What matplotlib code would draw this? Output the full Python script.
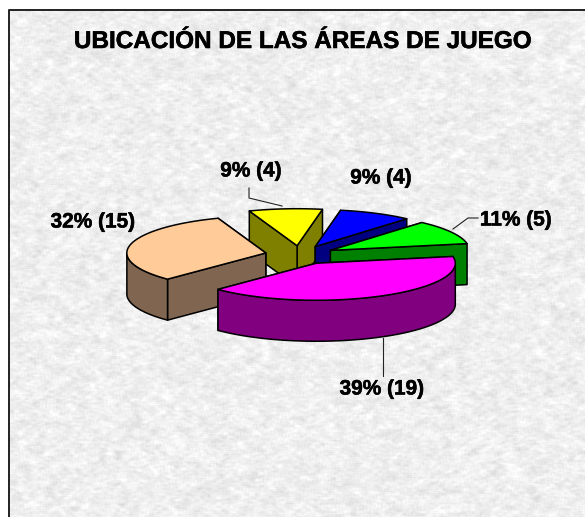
import numpy as np
import matplotlib
matplotlib.use('Agg')
import matplotlib.pyplot as plt
import matplotlib.patheffects as pe
from matplotlib.patches import Polygon

plt.rcParams['font.family'] = ['Liberation Sans', 'DejaVu Sans']

# data, clockwise from the lower left edge of the magenta slice
title = 'UBICACIÓN DE LAS ÁREAS DE JUEGO'
counts = [19, 5, 4, 4, 15]
labels = ['39% (19)', '11% (5)', '9% (4)', '9% (4)', '32% (15)']
top_colors = ['#FF00FF', '#00FF00', '#0000FF', '#FFFF00', '#FFCC99']
side_colors = ['#800080', '#008000', '#000080', '#808000', '#806650']
label_pos = [(382, 389), (516, 220), (381, 178), (251, 171), (93, 222)]
draw_order = [3, 2, 1, 4, 0]

# pie geometry in pixels
cx, cy = 300, 255
rx, ry = 139, 37
depth = 41
explode = 35
start_angle = -135

fig = plt.figure(figsize=(5.85, 5.17), dpi=100)
ax = fig.add_axes([0, 0, 1, 1])

# paper texture behind the chart, not data
rng = np.random.default_rng(3)
noise = rng.normal(size=(517, 585))
soft = sum(np.roll(np.roll(noise, i, 0), j, 1) for i in range(-1, 2) for j in range(-2, 3)) / 15
wide = sum(np.roll(np.roll(noise, i, 0), j, 1) for i in range(-4, 5) for j in range(-6, 7)) / 117
tex = 0.935 + 0.075 * soft + 0.07 * wide
tex = np.clip(tex, 0.74, 1.0)
tex[:9, :] = 1
tex[:, :8] = 1
ax.imshow(tex, cmap='gray', vmin=0, vmax=1, extent=(0, 585, 517, 0), aspect='auto', zorder=0)
ax.set_xlim(0, 585)
ax.set_ylim(517, 0)
ax.axis('off')
ax.plot([8.5, 8.5, 585], [517, 9.5, 9.5], color='#222222', lw=1.4, zorder=1)

shares = np.array(counts) / sum(counts) * 360
ends = start_angle + np.cumsum(shares)
starts = ends - shares


def pt(x0, y0, deg):
    a = np.radians(deg)
    return x0 + rx * np.cos(a), y0 - ry * np.sin(a)


z = 2
for i in draw_order:
    a0, a1 = starts[i], ends[i]
    mid = np.radians((a0 + a1) / 2)
    x0 = cx + explode * np.cos(mid)
    y0 = cy - explode * ry / rx * np.sin(mid)
    ang = np.linspace(a0, a1, 80)
    arc = np.array([pt(x0, y0, d) for d in ang])
    style = dict(edgecolor='black', lw=1.1, joinstyle='round')

    # radial faces, the one further back first
    for d in sorted((a0, a1), key=lambda v: np.sin(np.radians(v)), reverse=True):
        ex, ey = pt(x0, y0, d)
        quad = [(x0, y0), (ex, ey), (ex, ey + depth), (x0, y0 + depth)]
        ax.add_patch(Polygon(quad, facecolor=side_colors[i], zorder=z, **style))
        z += 1

    # outer wall, front half only
    front = np.sin(np.radians(ang)) <= 0
    if front.any():
        wall = arc[front]
        low = wall + [0, depth]
        ax.add_patch(Polygon(np.vstack([wall, low[::-1]]), facecolor=side_colors[i], zorder=z, **style))
        z += 1

    ax.add_patch(Polygon(np.vstack([[x0, y0], arc]), facecolor=top_colors[i], zorder=z, **style))
    z += 1

# leader lines
leaders = [([249, 249, 282], [188, 198, 206]),
           ([478, 468, 453], [218, 218, 229]),
           ([382.5, 382.5], [338, 376])]
for xs, ys in leaders:
    ax.plot(xs, ys, color='#222222', lw=0.8, zorder=100)

thick = [pe.withStroke(linewidth=0.4, foreground='black')]
ax.text(302.5, 41.5, title, ha='center', va='center', fontsize=17.5, fontweight='bold',
        color='black', zorder=101, path_effects=thick)
for text, (x, y) in zip(labels, label_pos):
    ax.text(x, y, text, ha='center', va='center', fontsize=15, fontweight='bold',
            color='black', zorder=101, path_effects=thick)

fig.savefig('out.png', dpi=100)
